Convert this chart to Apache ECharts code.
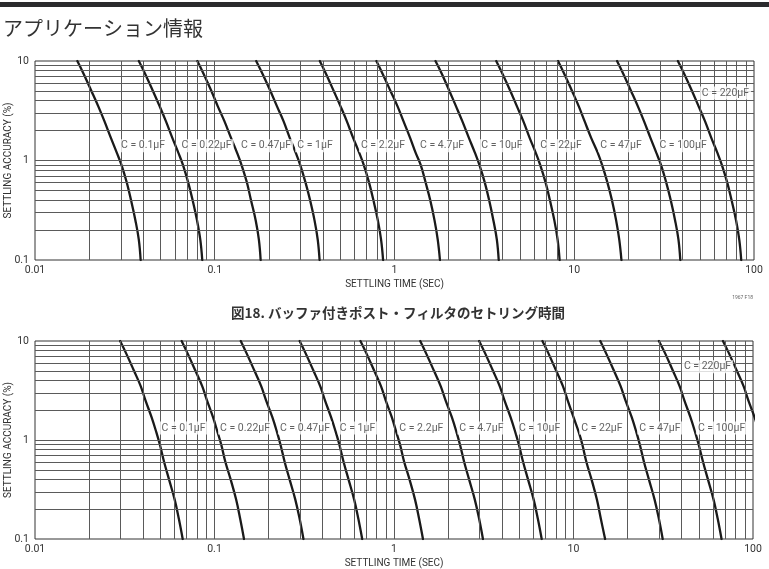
<!DOCTYPE html>
<html><head><meta charset="utf-8">
<script src="https://cdn.jsdelivr.net/npm/echarts@6/dist/echarts.min.js"></script>
<style>html,body{margin:0;padding:0;background:#fff}#c{width:769px;height:569px}</style>
</head><body><div id="c"></div>
<script>
// ---- data ----
const accLevels = [10, 7.5, 5, 3.5, 2.5, 1.7, 1.2, 0.9, 0.6, 0.4, 0.25, 0.16, 0.1];
const capNames = ['C = 0.1µF','C = 0.22µF','C = 0.47µF','C = 1µF','C = 2.2µF','C = 4.7µF','C = 10µF','C = 22µF','C = 47µF','C = 100µF','C = 220µF'];

const topT_0p1  = [0.0172, 0.0186, 0.0206, 0.0225, 0.0243, 0.0264, 0.0285, 0.0303, 0.0324, 0.0342, 0.0362, 0.0378, 0.0387];
const topT_0p22 = [0.0378, 0.0409, 0.0453, 0.0494, 0.0534, 0.0580, 0.0627, 0.0666, 0.0712, 0.0753, 0.0797, 0.0831, 0.0852];
const topT_0p47 = [0.0800, 0.0865, 0.0958, 0.104, 0.113, 0.123, 0.133, 0.141, 0.151, 0.159, 0.169, 0.176, 0.180];
const topT_1    = [0.170, 0.184, 0.204, 0.222, 0.241, 0.261, 0.282, 0.299, 0.320, 0.339, 0.359, 0.374, 0.383];
const topT_2p2  = [0.384, 0.415, 0.459, 0.501, 0.542, 0.588, 0.636, 0.675, 0.722, 0.763, 0.808, 0.842, 0.864];
const topT_4p7  = [0.793, 0.857, 0.950, 1.04, 1.12, 1.22, 1.31, 1.40, 1.49, 1.58, 1.67, 1.74, 1.79];
const topT_10   = [1.69, 1.83, 2.02, 2.20, 2.38, 2.59, 2.80, 2.97, 3.18, 3.36, 3.55, 3.71, 3.80];
const topT_22   = [3.68, 3.98, 4.41, 4.80, 5.20, 5.64, 6.10, 6.47, 6.93, 7.32, 7.75, 8.08, 8.29];
const topT_47   = [8.12, 8.78, 9.72, 10.6, 11.4, 12.4, 13.5, 14.3, 15.3, 16.2, 17.1, 17.8, 18.3];
const topT_100  = [17.3, 18.7, 20.7, 22.6, 24.4, 26.5, 28.6, 30.4, 32.5, 34.4, 36.4, 38.0, 38.9];
const topT_220  = [37.7, 40.8, 45.2, 49.2, 53.3, 57.8, 62.5, 66.3, 71.0, 75.0, 79.5, 82.8, 84.9];

const botT_0p1  = [0.0298, 0.0322, 0.0356, 0.0388, 0.0413, 0.0446, 0.0474, 0.0496, 0.0524, 0.0558, 0.0600, 0.0633, 0.0665];
const botT_0p22 = [0.0656, 0.0708, 0.0783, 0.0854, 0.0909, 0.0981, 0.104, 0.109, 0.115, 0.123, 0.132, 0.139, 0.146];
const botT_0p47 = [0.140, 0.151, 0.167, 0.182, 0.194, 0.210, 0.223, 0.233, 0.246, 0.262, 0.282, 0.298, 0.313];
const botT_1    = [0.298, 0.322, 0.356, 0.388, 0.413, 0.446, 0.474, 0.496, 0.524, 0.558, 0.600, 0.633, 0.665];
const botT_2p2  = [0.650, 0.702, 0.776, 0.846, 0.900, 0.972, 1.03, 1.08, 1.14, 1.22, 1.31, 1.38, 1.45];
const botT_4p7  = [1.40, 1.51, 1.67, 1.82, 1.94, 2.10, 2.23, 2.33, 2.46, 2.62, 2.82, 2.98, 3.13];
const botT_10   = [2.98, 3.22, 3.56, 3.88, 4.13, 4.46, 4.74, 4.96, 5.24, 5.58, 6.00, 6.33, 6.65];
const botT_22   = [6.71, 7.25, 8.01, 8.73, 9.29, 10.0, 10.7, 11.2, 11.8, 12.6, 13.5, 14.2, 15.0];
const botT_47   = [14.1, 15.2, 16.8, 18.3, 19.5, 21.1, 22.4, 23.4, 24.7, 26.3, 28.3, 29.9, 31.4];
const botT_100  = [29.9, 32.4, 35.8, 39.0, 41.5, 44.8, 47.6, 49.8, 52.7, 56.1, 60.3, 63.6, 66.8];
const botT_220  = [68.0, 73.5, 81.3, 88.6, 94.3, 102, 108];

const xTickLabels = ['0.01', '0.1', '1', '10', '100'];
const yTickLabels = ['0.1', '1', '10'];

// label anchors (time, accuracy) for the capacitor annotations
const topLabelT   = [0.0399, 0.0900, 0.193, 0.361, 0.863, 1.84, 3.96, 8.44, 18.2, 40.3, 69.4];
const topLabelAcc = [1.41, 1.41, 1.41, 1.41, 1.41, 1.41, 1.41, 1.41, 1.41, 1.41, 4.77];
const botLabelT   = [0.0672, 0.148, 0.319, 0.626, 1.42, 3.07, 6.47, 14.4, 30.3, 66.8, 55.8];
const botLabelAcc = [1.32, 1.32, 1.32, 1.32, 1.32, 1.32, 1.32, 1.32, 1.32, 1.32, 5.5];

// log grid structure
const decadesX = [0.01, 0.1, 1, 10];
const decadesY = [0.1, 1];
const minorMult = [2, 3, 4, 5, 6, 7, 8, 9];

// ---- build ----
const topCurves = [topT_0p1, topT_0p22, topT_0p47, topT_1, topT_2p2, topT_4p7, topT_10, topT_22, topT_47, topT_100, topT_220];
const botCurves = [botT_0p1, botT_0p22, botT_0p47, botT_1, botT_2p2, botT_4p7, botT_10, botT_22, botT_47, botT_100, botT_220];

const FONT = 'Roboto, "Liberation Sans", sans-serif';
const GRIDC = '#5a5a5a';

function gridLineData() {
  const d = [];
  decadesX.forEach((dec, i) => {
    if (i > 0) d.push({ xAxis: dec });
    minorMult.forEach(m => d.push({ xAxis: +(m * dec).toPrecision(6) }));
  });
  decadesY.forEach((dec, i) => {
    if (i > 0) d.push({ yAxis: dec });
    minorMult.forEach(m => d.push({ yAxis: +(m * dec).toPrecision(6) }));
  });
  return d;
}

function fmt(labels) {
  return v => {
    let best = labels[0], bd = Infinity;
    labels.forEach(l => { const dd = Math.abs(Math.log10(+l) - Math.log10(v)); if (dd < bd) { bd = dd; best = l; } });
    return best;
  };
}

function axesFor(idx) {
  const x = {
    type: 'log', logBase: 10, min: 0.01, max: 100, gridIndex: idx,
    axisLine: { show: false }, axisTick: { show: false }, splitLine: { show: false },
    axisLabel: { color: '#333', fontSize: 10.5, fontFamily: FONT, margin: 5, formatter: fmt(xTickLabels) },
    name: 'SETTLING TIME (SEC)', nameLocation: 'middle', nameGap: 19,
    nameTextStyle: { color: '#333', fontSize: 10, fontFamily: FONT }
  };
  const y = {
    type: 'log', logBase: 10, min: 0.1, max: 10, gridIndex: idx,
    axisLine: { show: false }, axisTick: { show: false }, splitLine: { show: false },
    axisLabel: { color: '#333', fontSize: 10.5, fontFamily: FONT, margin: 6, formatter: fmt(yTickLabels) },
    name: 'SETTLING ACCURACY (%)', nameLocation: 'middle', nameGap: 22, nameRotate: 90,
    nameMoveOverlap: false,
    nameTextStyle: { color: '#333', fontSize: 10, fontFamily: FONT }
  };
  return [x, y];
}

const [x0, y0] = axesFor(0);
const [x1, y1] = axesFor(1);

const series = [];
[0, 1].forEach(g => {
  series.push({
    type: 'line', xAxisIndex: g, yAxisIndex: g, data: [[0.01, 0.1]], showSymbol: false,
    lineStyle: { width: 0 }, silent: true, z: 1,
    markLine: {
      silent: true, symbol: ['none', 'none'], label: { show: false },
      lineStyle: { color: GRIDC, width: 1, type: 'solid' },
      emphasis: { disabled: true }, animation: false,
      data: gridLineData()
    }
  });
  const curves = g === 0 ? topCurves : botCurves;
  curves.forEach((arr, i) => {
    series.push({
      type: 'line', name: capNames[i], xAxisIndex: g, yAxisIndex: g, z: 3,
      data: arr.map((t, k) => [t, accLevels[k]]),
      smooth: 0.4, showSymbol: false, clip: true, silent: true,
      lineStyle: { color: '#1a1a1a', width: 2.3, join: 'round', cap: 'round' }
    });
  });
  const lt = g === 0 ? topLabelT : botLabelT;
  const la = g === 0 ? topLabelAcc : botLabelAcc;
  series.push({
    type: 'scatter', xAxisIndex: g, yAxisIndex: g, z: 5, silent: true,
    symbolSize: 1, itemStyle: { color: 'rgba(0,0,0,0)' },
    data: lt.map((t, i) => ({ value: [t, la[i]], name: capNames[i] })),
    label: {
      show: true, position: 'inside', formatter: p => p.name,
      color: '#3a3a3a', fontSize: 10.5, fontFamily: FONT,
      backgroundColor: '#fff', padding: [1, 2]
    }
  });
});

const chart = echarts.init(document.getElementById('c'), null, { renderer: 'canvas' });
chart.setOption({
  animation: false,
  backgroundColor: '#fff',
  grid: [
    { left: 35, top: 61, right: 15, height: 199, containLabel: false, outerBoundsMode: 'none', show: true, borderColor: '#333', borderWidth: 1, backgroundColor: '#fff' },
    { left: 35, top: 341, right: 16, height: 198, containLabel: false, outerBoundsMode: 'none', show: true, borderColor: '#333', borderWidth: 1, backgroundColor: '#fff' }
  ],
  xAxis: [x0, x1],
  yAxis: [y0, y1],
  series: series,
  graphic: [
    { type: 'rect', left: 0, top: 2, shape: { width: 769, height: 5 }, style: { fill: '#2b2b2d' }, silent: true },
    { type: 'text', left: 3, top: 18, style: { text: 'アプリケーション情報', fill: '#333', font: '20px "Noto Sans CJK JP"' }, silent: true },
    { type: 'text', left: 231, top: 306, style: { text: '図18. バッファ付きポスト・フィルタのセトリング時間', fill: '#333', font: 'bold 13.5px "Noto Sans CJK JP"' }, silent: true },
    { type: 'text', right: 16, top: 295, style: { text: '1967 F18', fill: '#666', font: '5px Roboto' }, silent: true }
  ]
});
</script></body></html>
